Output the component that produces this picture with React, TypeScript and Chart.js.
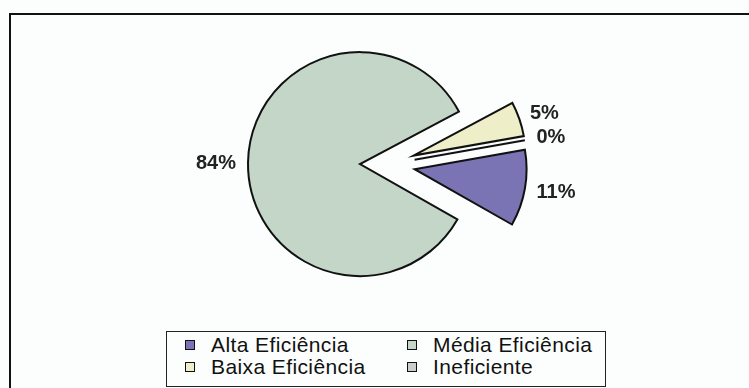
import React, { useEffect, useRef } from "react";
import { Chart, registerables } from "chart.js";

Chart.register(...registerables);

// ---- data ----
const categories = ["Alta Eficiência", "Média Eficiência", "Baixa Eficiência", "Ineficiente"];
const values = [11, 84, 5, 0];
const valueLabels = ["11%", "84%", "5%", "0%"];
const sliceColors = ["#7a74b4", "#c3d6c8", "#eeeec8", "#cccccc"];
const legendOrder = [0, 1, 2, 3];

// ---- style ----
const EXPLODE = 27.5;
const RADIUS = 112;
const LABEL_GAP = 12;
const LABEL_FONT = "bold 20px 'Liberation Sans', Arial, sans-serif";

const explodePlugin = {
  id: "explodeLabels",
  beforeDatasetsDraw(chart: any) {
    const meta = chart.getDatasetMeta(0);
    meta.data.forEach((arc: any) => {
      const mid = (arc.startAngle + arc.endAngle) / 2;
      arc._ox = arc.x;
      arc._oy = arc.y;
      arc.x = arc.x + Math.cos(mid) * EXPLODE;
      arc.y = arc.y + Math.sin(mid) * EXPLODE;
    });
  },
  afterDatasetsDraw(chart: any) {
    const ctx = chart.ctx;
    const meta = chart.getDatasetMeta(0);
    ctx.save();
    meta.data.forEach((arc: any, i: number) => {
      const mid = (arc.startAngle + arc.endAngle) / 2;
      const r = arc.outerRadius;
      // zero-width slice drawn as a single edge line
      if (arc.endAngle - arc.startAngle === 0) {
        ctx.beginPath();
        ctx.strokeStyle = "#111";
        ctx.lineWidth = 2;
        ctx.moveTo(arc.x, arc.y);
        ctx.lineTo(arc.x + Math.cos(mid) * r, arc.y + Math.sin(mid) * r);
        ctx.stroke();
      }
      ctx.font = LABEL_FONT;
      ctx.fillStyle = "#222";
      ctx.textAlign = "center";
      ctx.textBaseline = "middle";
      const txt = valueLabels[i];
      const w = ctx.measureText(txt).width;
      const h = 15;
      const px = arc.x + Math.cos(mid) * (r + LABEL_GAP);
      const py = arc.y + Math.sin(mid) * (r + LABEL_GAP);
      const cx = px + Math.cos(mid) * (w / 2);
      const cy = py + Math.sin(mid) * (h / 2);
      ctx.fillText(txt, cx, cy + 1);
    });
    ctx.restore();
    meta.data.forEach((arc: any) => {
      arc.x = arc._ox;
      arc.y = arc._oy;
    });
  },
};

function PieChart() {
  const ref = useRef<HTMLCanvasElement>(null);
  useEffect(() => {
    if (!ref.current) return;
    const chart = new Chart(ref.current, {
      type: "pie",
      data: {
        labels: categories,
        datasets: [
          {
            data: values,
            backgroundColor: sliceColors,
            borderColor: "#111",
            borderWidth: 2,
            borderJoinStyle: "miter",
          } as any,
        ],
      },
      options: {
        responsive: false,
        animation: false,
        devicePixelRatio: 1,
        events: [],
        rotation: 80,
        radius: RADIUS,
        layout: { padding: { left: 26, right: 0, top: 0, bottom: 59 } },
        plugins: {
          legend: { display: false },
          tooltip: { enabled: false },
        },
      } as any,
      plugins: [explodePlugin],
    });
    return () => chart.destroy();
  }, []);
  return (
    <canvas
      ref={ref}
      width={749}
      height={388}
      style={{ position: "absolute", left: 0, top: 0, width: 749, height: 388 }}
    />
  );
}

const legendPos = [
  { left: 185, top: 334 },
  { left: 407, top: 334 },
  { left: 185, top: 356 },
  { left: 407, top: 356 },
];

export default function App() {
  return (
    <div
      style={{
        position: "fixed",
        left: 0,
        top: 0,
        width: 749,
        height: 388,
        overflow: "hidden",
        background: "#fcfefd",
        fontFamily: "'Liberation Sans', Arial, sans-serif",
      }}
    >
      <div
        style={{
          position: "absolute",
          left: 9,
          top: 13,
          width: 800,
          height: 400,
          borderLeft: "2px solid #111",
          borderTop: "2px solid #111",
        }}
      />
      <PieChart />
      <div
        style={{
          position: "absolute",
          left: 166,
          top: 331,
          width: 438,
          height: 54,
          border: "1px solid #222",
          background: "#fbfefd",
        }}
      />
      {legendOrder.map((idx, k) => (
        <div
          key={categories[idx]}
          style={{
            position: "absolute",
            left: legendPos[k].left,
            top: legendPos[k].top,
            height: 22,
            display: "flex",
            alignItems: "center",
            whiteSpace: "nowrap",
          }}
        >
          <span
            style={{
              display: "inline-block",
              width: 8,
              height: 8,
              border: "1.5px solid #111",
              background: sliceColors[idx],
              marginRight: 16,
            }}
          />
          <span style={{ fontSize: 21, color: "#111", lineHeight: "22px", letterSpacing: "0.4px" }}>
            {categories[idx]}
          </span>
        </div>
      ))}
    </div>
  );
}
